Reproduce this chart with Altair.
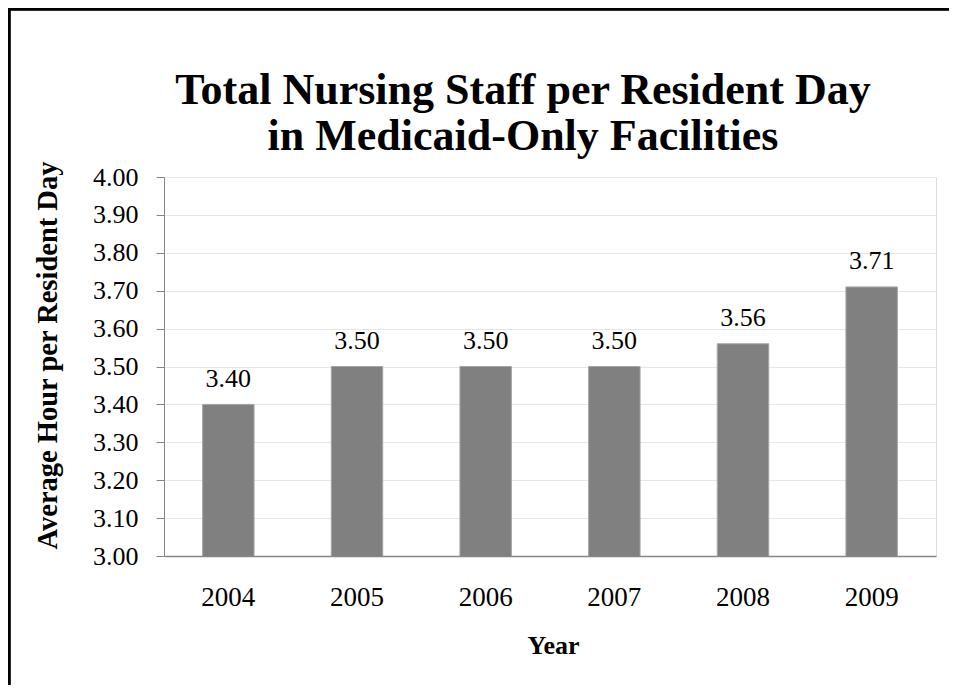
import altair as alt
import pandas as pd

years = ["2004", "2005", "2006", "2007", "2008", "2009"]
hours = [3.40, 3.50, 3.50, 3.50, 3.56, 3.71]
y_ticks = [3.0, 3.1, 3.2, 3.3, 3.4, 3.5, 3.6, 3.7, 3.8, 3.9, 4.0]

df = pd.DataFrame({"Year": years, "Hours": hours})

FONT = "Liberation Serif"
W, H = 772, 379

x_enc = alt.X(
    "Year:N",
    sort=years,
    scale=alt.Scale(paddingInner=0.6, paddingOuter=0.3),
    axis=alt.Axis(
        title="Year",
        labelAngle=0,
        ticks=False,
        tickSize=0,
        labelPadding=28,
        labelFontSize=27,
        labelFont=FONT,
        labelColor="black",
        domainColor="#868686",
        domainWidth=1.5,
        titleFont=FONT,
        titleFontSize=26,
        titleFontWeight="bold",
        titleColor="black",
        titleBaseline="alphabetic",
        titleX=W / 2 + 3,
        titleY=97,
        grid=False,
    ),
)

y_enc = alt.Y(
    "Hours:Q",
    scale=alt.Scale(domain=[3.0, 4.0], nice=False, zero=False),
    axis=alt.Axis(
        title="Average Hour per Resident Day",
        values=y_ticks,
        tickCount=len(y_ticks),
        format=".2f",
        labelOverlap=False,
        tickSize=8,
        tickColor="#868686",
        labelPadding=18,
        labelFontSize=26,
        labelFont=FONT,
        labelColor="black",
        domainColor="#868686",
        gridColor="#e6e6e6",
        gridWidth=1,
        titleFont=FONT,
        titleFontSize=28.5,
        titleFontWeight="bold",
        titleColor="black",
        titleBaseline="alphabetic",
        titleAngle=270,
        titleX=-108,
        titleY=178,
    ),
)

bars = alt.Chart(df).mark_bar(
    color="#808080", stroke="#a6a6a6", strokeWidth=1, clip=True
).encode(x=x_enc, y=y_enc)

labels = alt.Chart(df).mark_text(
    font=FONT, fontSize=26, color="black", baseline="alphabetic", dy=-17.5
).encode(
    x=alt.X("Year:N", sort=years),
    y=alt.Y("Hours:Q"),
    text=alt.Text("Hours:Q", format=".2f"),
)

frame = alt.Chart(df).mark_rect(fill=None, stroke="black", strokeWidth=2.5).encode(
    x=alt.value(-155), x2=alt.value(W + 100), y=alt.value(-168), y2=alt.value(H + 300)
)

chart = (
    alt.layer(frame, bars, labels)
    .properties(
        width=W,
        height=H,
        autosize=alt.AutoSizeParams(type="none"),
        padding={"left": 156, "top": 169, "right": 13, "bottom": 129},
        title=alt.TitleParams(
            text=["Total Nursing Staff per Resident Day", "in Medicaid-Only Facilities"],
            font=FONT,
            fontSize=44,
            fontWeight="bold",
            color="black",
            anchor="middle",
            dx=-27,
            dy=155,
            lineHeight=46,
        ),
    )
    .configure_view(stroke=None)
    .configure(background="white")
)

chart.save("out.html", embed_options={"renderer": "svg", "actions": False})
